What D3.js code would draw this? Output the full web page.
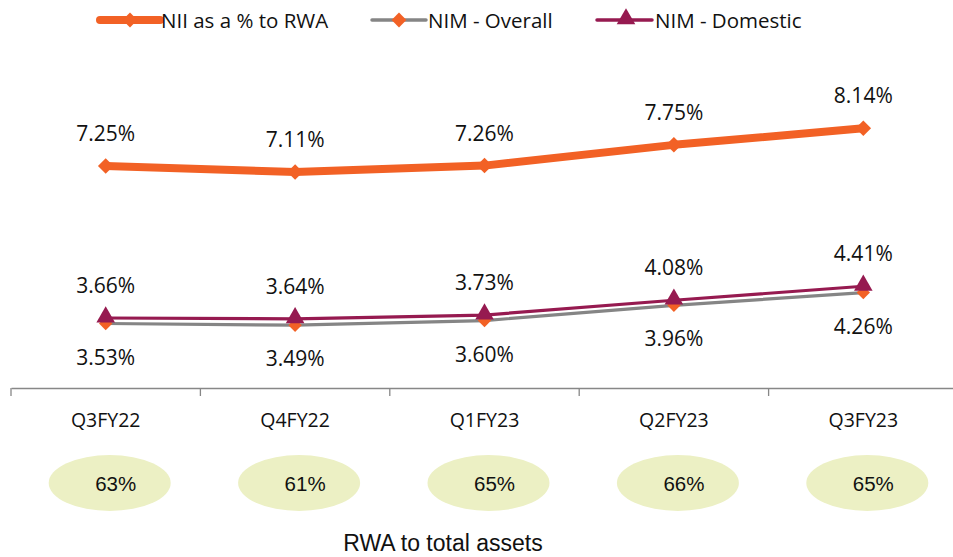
<!DOCTYPE html>
<html><head><meta charset="utf-8">
<script src="https://cdn.jsdelivr.net/npm/d3@7"></script>
<style>body{margin:0;background:#fff}svg{display:block}</style>
</head><body>
<svg id="c" width="953" height="557"></svg>
<script>
const categories = ["Q3FY22","Q4FY22","Q1FY23","Q2FY23","Q3FY23"];
const niiRwa = [7.25, 7.11, 7.26, 7.75, 8.14];
const nimOverall = [3.53, 3.49, 3.60, 3.96, 4.26];
const nimDomestic = [3.66, 3.64, 3.73, 4.08, 4.41];
const rwaToAssets = [63, 61, 65, 66, 65];
const seriesNames = ["NII as a % to RWA", "NIM - Overall", "NIM - Domestic"];
const bottomTitle = "RWA to total assets";

const W = 953, H = 557;
const svg = d3.select("#c");
const labelFont = "'Open Sans', sans-serif";
const orange = "#F26125", gray = "#858585", purple = "#961A50";

const x = d3.scaleBand().domain(categories).range([11, 958]);
const y = d3.scaleLinear().domain([2, 10]).range([388.3, 49.6]);
const cx = c => x(c) + x.bandwidth() / 2;

// axis
const ax = svg.append("g").attr("transform", "translate(0,388)")
  .call(d3.axisBottom(x).tickSize(0).tickFormat(""));
ax.select(".domain").attr("stroke", "#878787").attr("stroke-width", 1.3);
ax.selectAll(".tick").remove();
svg.selectAll("line.tk").data(categories).enter().append("line")
  .attr("x1", d => x(d)).attr("x2", d => x(d))
  .attr("y1", 388).attr("y2", 396).attr("stroke", "#878787").attr("stroke-width", 1.3);
svg.selectAll("text.cat").data(categories).enter().append("text")
  .attr("x", d => cx(d)).attr("y", 427).attr("text-anchor", "middle")
  .attr("font-family", labelFont).attr("font-size", 19.5).attr("fill", "#111")
  .text(d => d);

const line = d3.line().x((d, i) => cx(categories[i])).y(d => y(d));

// NIM overall
svg.append("path").datum(nimOverall).attr("d", line).attr("fill", "none")
  .attr("stroke", gray).attr("stroke-width", 3.2);
svg.selectAll("path.mo").data(nimOverall).enter().append("path")
  .attr("d", d3.symbol().type(d3.symbolSquare).size(90)())
  .attr("transform", (d, i) => `translate(${cx(categories[i])},${y(d)}) rotate(45)`)
  .attr("fill", orange);
// NIM domestic
svg.append("path").datum(nimDomestic).attr("d", line).attr("fill", "none")
  .attr("stroke", purple).attr("stroke-width", 3.2);
svg.selectAll("path.md").data(nimDomestic).enter().append("path")
  .attr("d", d3.symbol().type(d3.symbolTriangle).size(150)())
  .attr("transform", (d, i) => `translate(${cx(categories[i])},${y(d) - 1})`)
  .attr("fill", purple);
// NII
svg.append("path").datum(niiRwa).attr("d", line).attr("fill", "none")
  .attr("stroke", orange).attr("stroke-width", 8).attr("stroke-linejoin", "round");
svg.selectAll("path.mn").data(niiRwa).enter().append("path")
  .attr("d", d3.symbol().type(d3.symbolSquare).size(120)())
  .attr("transform", (d, i) => `translate(${cx(categories[i])},${y(d)}) rotate(45)`)
  .attr("fill", orange);

// data labels
function labels(data, dy) {
  svg.append("g").selectAll("text").data(data).enter().append("text")
    .attr("x", (d, i) => cx(categories[i])).attr("y", d => y(d) + dy)
    .attr("text-anchor", "middle").attr("font-family", labelFont)
    .attr("font-size", 21).attr("fill", "#111")
    .text(d => d.toFixed(2) + "%");
}
labels(niiRwa, -25);
labels(nimDomestic, -25);
labels(nimOverall, 41);

// legend
const leg = [
  {name: seriesNames[0], x1: 100, x2: 160, m: 130, color: orange, w: 8, mk: "diamond", mc: orange, tx: 161},
  {name: seriesNames[1], x1: 372, x2: 426, m: 399, color: gray, w: 3.5, mk: "diamond", mc: orange, tx: 428},
  {name: seriesNames[2], x1: 597, x2: 652, m: 626, color: purple, w: 3.5, mk: "triangle", mc: purple, tx: 655}
];
const lg = svg.append("g");
leg.forEach(l => {
  lg.append("line").attr("x1", l.x1).attr("x2", l.x2).attr("y1", 20).attr("y2", 20)
    .attr("stroke", l.color).attr("stroke-width", l.w).attr("stroke-linecap", "round");
  if (l.mk === "diamond") {
    lg.append("path").attr("d", d3.symbol().type(d3.symbolSquare).size(110)())
      .attr("transform", `translate(${l.m},20) rotate(45)`).attr("fill", l.mc);
  } else {
    lg.append("path").attr("d", d3.symbol().type(d3.symbolTriangle).size(150)())
      .attr("transform", `translate(${l.m},19)`).attr("fill", l.mc);
  }
  lg.append("text").attr("x", l.tx).attr("y", 27.5).attr("font-family", labelFont)
    .attr("font-size", 20.5).attr("fill", "#111").text(l.name);
});

// ovals
const ov = svg.append("g");
ov.selectAll("ellipse").data(rwaToAssets).enter().append("ellipse")
  .attr("cx", (d, i) => cx(categories[i]) + 4).attr("cy", 483)
  .attr("rx", 61).attr("ry", 28).attr("fill", "#ECF0C4");
ov.selectAll("text").data(rwaToAssets).enter().append("text")
  .attr("x", (d, i) => cx(categories[i]) + 10).attr("y", 491)
  .attr("text-anchor", "middle").attr("font-family", "'Liberation Sans', Arial, sans-serif")
  .attr("font-size", 20.5).attr("fill", "#111").text(d => d + "%");

svg.append("text").attr("x", 443).attr("y", 551).attr("text-anchor", "middle")
  .attr("font-family", "'Liberation Sans', Arial, sans-serif").attr("font-size", 23)
  .attr("fill", "#111").text(bottomTitle);
</script>
</body></html>
